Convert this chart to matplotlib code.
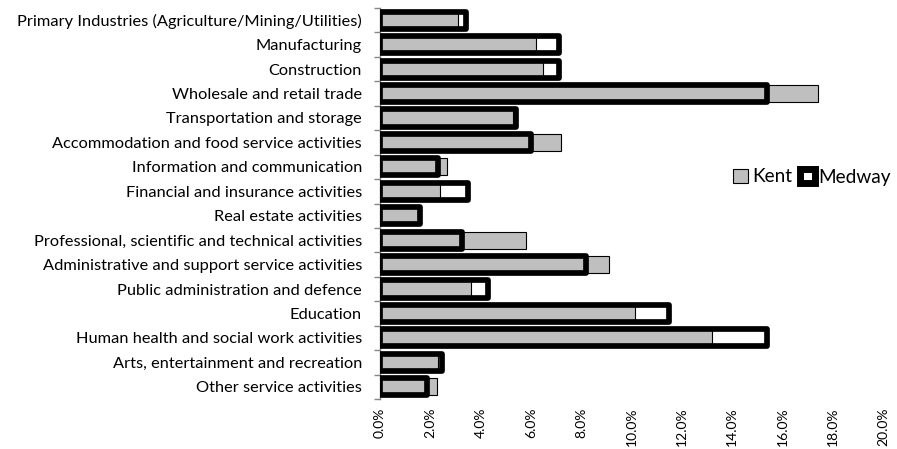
import matplotlib
matplotlib.use("Agg")
import matplotlib.pyplot as plt
from matplotlib.patches import Patch
from matplotlib.ticker import FuncFormatter

categories = [
    "Primary Industries (Agriculture/Mining/Utilities)",
    "Manufacturing",
    "Construction",
    "Wholesale and retail trade",
    "Transportation and storage",
    "Accommodation and food service activities",
    "Information and communication",
    "Financial and insurance activities",
    "Real estate activities",
    "Professional, scientific and technical activities",
    "Administrative and support service activities",
    "Public administration and defence",
    "Education",
    "Human health and social work activities",
    "Arts, entertainment and recreation",
    "Other service activities",
]
kent = [3.1, 6.2, 6.5, 17.4, 5.3, 7.2, 2.65, 2.4, 1.5, 5.8, 9.1, 3.6, 10.15, 13.2, 2.3, 2.25]
medway = [3.4, 7.1, 7.1, 15.4, 5.4, 6.0, 2.3, 3.5, 1.6, 3.25, 8.2, 4.3, 11.5, 15.4, 2.45, 1.85]
xticks = [0, 2, 4, 6, 8, 10, 12, 14, 16, 18, 20]

plt.rcParams['font.family'] = ['Lato', 'DejaVu Sans']

W, H = 897, 449
fig = plt.figure(figsize=(W / 100, H / 100), dpi=100)
ax = fig.add_axes([380 / W, 1 - 399 / H, (883 - 380) / W, (399 - 8) / H])

y = list(range(len(categories)))
ax.barh(y, kent, height=0.7, color="#BFBFBF", edgecolor="black", linewidth=0.8, zorder=2)
ax.barh(y, medway, height=0.7, facecolor="none", edgecolor="black", linewidth=4.1,
        joinstyle="round", zorder=3)

ax.set_xlim(0, 20)
ax.set_ylim(len(categories) - 0.5, -0.5)
ax.set_xticks(xticks)
ax.xaxis.set_major_formatter(FuncFormatter(lambda v, p: f"{v:.1f}%"))
ax.tick_params(axis="x", length=0, pad=6, labelsize=10, labelrotation=90)

ax.set_yticks(y)
ax.set_yticklabels(categories)
ax.tick_params(axis="y", which="major", length=0, pad=13, labelsize=11.8)
ax.set_yticks([i - 0.5 for i in range(len(categories) + 1)], minor=True)
ax.tick_params(axis="y", which="minor", length=4, color="#868686", width=1)

for s in ["top", "right", "bottom"]:
    ax.spines[s].set_visible(False)
ax.spines["left"].set_color("#868686")
ax.spines["left"].set_linewidth(1)

handles = [
    Patch(facecolor="#BFBFBF", edgecolor="black", linewidth=0.8, label="Kent"),
    Patch(facecolor="white", edgecolor="black", linewidth=5, joinstyle="round", label="Medway"),
]
fig.legend(handles=handles, loc="center left", bbox_to_anchor=(733 / W, 1 - 177 / H),
           ncol=2, frameon=False, fontsize=13.7, handlelength=0.8, handleheight=0.8,
           handletextpad=0.2, columnspacing=0.4, borderpad=0, borderaxespad=0)

fig.savefig("out.png", dpi=100)
